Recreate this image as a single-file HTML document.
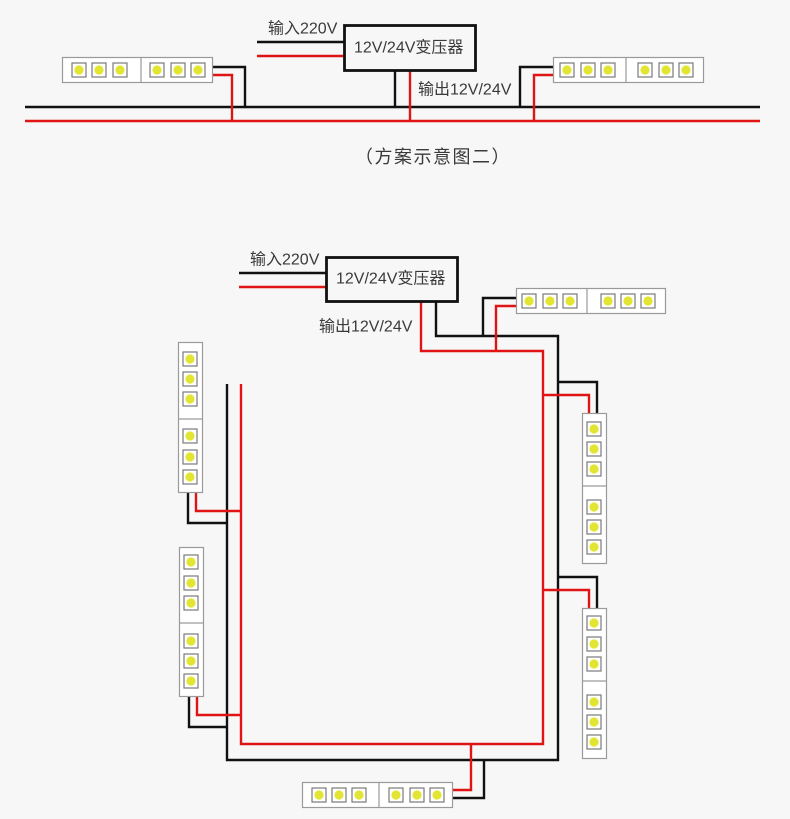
<!DOCTYPE html>
<html>
<head>
<meta charset="utf-8">
<style>
  html, body { margin:0; padding:0; background:#f7f7f7; }
  svg { display:block; }
  text { font-family: "Liberation Sans", "Noto Sans CJK SC", sans-serif; fill:#3a3a3a; font-size:16px; dominant-baseline:central; }
</style>
</head>
<body>
<svg width="790" height="819" viewBox="0 0 790 819" xmlns="http://www.w3.org/2000/svg">
  <defs>
    <g id="ledh">
      <rect x="0" y="0" width="14" height="14" fill="#fff" stroke="#7a7a7a" stroke-width="1.2"/>
      <circle cx="7" cy="7" r="4.6" fill="#e2e532"/>
    </g>
  </defs>
  <rect width="790" height="819" fill="#f7f7f7"/>

  <g fill="none" stroke-linejoin="miter" stroke-linecap="butt">
    <line x1="25" y1="107" x2="760" y2="107" stroke="#111" stroke-width="2.4"/>
    <line x1="25" y1="121" x2="760" y2="121" stroke="#e01414" stroke-width="2.4"/>
    <line x1="257" y1="42" x2="344" y2="42" stroke="#111" stroke-width="2.4"/>
    <line x1="257" y1="56" x2="344" y2="56" stroke="#e01414" stroke-width="2.4"/>
    <line x1="395" y1="71" x2="395" y2="107" stroke="#111" stroke-width="2.4"/>
    <line x1="410" y1="71" x2="410" y2="121" stroke="#e01414" stroke-width="2.4"/>
    <polyline points="212,67 245,67 245,107" stroke="#111" stroke-width="2.4"/>
    <polyline points="212,75 232,75 232,121" stroke="#e01414" stroke-width="2.4"/>
    <polyline points="553,67 520,67 520,107" stroke="#111" stroke-width="2.4"/>
    <polyline points="553,75 534,75 534,121" stroke="#e01414" stroke-width="2.4"/>
    <rect x="344.5" y="25.5" width="131" height="45" fill="#f7f7f7" stroke="#111" stroke-width="2.8"/>

    <line x1="239" y1="273" x2="326" y2="273" stroke="#111" stroke-width="2.4"/>
    <line x1="239" y1="287" x2="326" y2="287" stroke="#e01414" stroke-width="2.4"/>
    <polyline points="421,302 421,351 543,351 543,744 241,744 241,384" stroke="#e01414" stroke-width="2.4"/>
    <polyline points="436,302 436,336 558,336 558,760 227,760 227,384" stroke="#111" stroke-width="2.4"/>
    <polyline points="516,298 483,298 483,336" stroke="#111" stroke-width="2.4"/>
    <polyline points="516,306 496,306 496,351" stroke="#e01414" stroke-width="2.4"/>
    <polyline points="558,382 597,382 597,413" stroke="#111" stroke-width="2.4"/>
    <polyline points="543,395 589,395 589,413" stroke="#e01414" stroke-width="2.4"/>
    <polyline points="558,577 597,577 597,608" stroke="#111" stroke-width="2.4"/>
    <polyline points="543,590 589,590 589,608" stroke="#e01414" stroke-width="2.4"/>
    <polyline points="188,492 188,523 227,523" stroke="#111" stroke-width="2.4"/>
    <polyline points="196,492 196,511 241,511" stroke="#e01414" stroke-width="2.4"/>
    <polyline points="189,696 189,727 227,727" stroke="#111" stroke-width="2.4"/>
    <polyline points="197,696 197,715 241,715" stroke="#e01414" stroke-width="2.4"/>
    <polyline points="452,790 471,790 471,744" stroke="#e01414" stroke-width="2.4"/>
    <polyline points="452,798 484,798 484,760" stroke="#111" stroke-width="2.4"/>
    <rect x="326.5" y="257.5" width="131" height="44" fill="#f7f7f7" stroke="#111" stroke-width="2.8"/>
  </g>

  <g stroke="#9a9a9a" stroke-width="1.2">
    <rect x="62.5" y="57.5" width="150" height="25" fill="#fff"/>
    <line x1="141" y1="57.5" x2="141" y2="82.5"/>
    <rect x="553.5" y="57.5" width="150" height="25" fill="#fff"/>
    <line x1="626" y1="57.5" x2="626" y2="82.5"/>
    <rect x="516.5" y="288.5" width="149" height="25" fill="#fff"/>
    <line x1="587" y1="288.5" x2="587" y2="313.5"/>
    <rect x="582.5" y="413.5" width="24" height="150" fill="#fff"/>
    <line x1="582.5" y1="486" x2="606.5" y2="486"/>
    <rect x="582.5" y="608.5" width="24" height="150" fill="#fff"/>
    <line x1="582.5" y1="681" x2="606.5" y2="681"/>
    <rect x="178.5" y="342.5" width="24" height="150" fill="#fff"/>
    <line x1="178.5" y1="419" x2="202.5" y2="419"/>
    <rect x="179.5" y="547.5" width="24" height="149" fill="#fff"/>
    <line x1="179.5" y1="623" x2="203.5" y2="623"/>
    <rect x="302.5" y="782.5" width="150" height="25" fill="#fff"/>
    <line x1="379" y1="782.5" x2="379" y2="807.5"/>
  </g>

  <g>
    <use href="#ledh" x="72" y="63"/><use href="#ledh" x="92" y="63"/><use href="#ledh" x="113" y="63"/>
    <use href="#ledh" x="150" y="63"/><use href="#ledh" x="171" y="63"/><use href="#ledh" x="191" y="63"/>
    <use href="#ledh" x="560" y="63"/><use href="#ledh" x="581" y="63"/><use href="#ledh" x="601" y="63"/>
    <use href="#ledh" x="638" y="63"/><use href="#ledh" x="659" y="63"/><use href="#ledh" x="679" y="63"/>
    <use href="#ledh" x="522" y="294"/><use href="#ledh" x="543" y="294"/><use href="#ledh" x="563" y="294"/>
    <use href="#ledh" x="601" y="294"/><use href="#ledh" x="621" y="294"/><use href="#ledh" x="641" y="294"/>
    <use href="#ledh" x="587" y="422"/><use href="#ledh" x="587" y="442"/><use href="#ledh" x="587" y="462"/>
    <use href="#ledh" x="587" y="500"/><use href="#ledh" x="587" y="520"/><use href="#ledh" x="587" y="540"/>
    <use href="#ledh" x="587" y="616"/><use href="#ledh" x="587" y="637"/><use href="#ledh" x="587" y="657"/>
    <use href="#ledh" x="587" y="695"/><use href="#ledh" x="587" y="715"/><use href="#ledh" x="587" y="735"/>
    <use href="#ledh" x="183" y="352"/><use href="#ledh" x="183" y="372"/><use href="#ledh" x="183" y="392"/>
    <use href="#ledh" x="183" y="429"/><use href="#ledh" x="183" y="450"/><use href="#ledh" x="183" y="470"/>
    <use href="#ledh" x="184" y="555"/><use href="#ledh" x="184" y="576"/><use href="#ledh" x="184" y="596"/>
    <use href="#ledh" x="184" y="634"/><use href="#ledh" x="184" y="654"/><use href="#ledh" x="184" y="674"/>
    <use href="#ledh" x="312" y="788"/><use href="#ledh" x="332" y="788"/><use href="#ledh" x="352" y="788"/>
    <use href="#ledh" x="389" y="788"/><use href="#ledh" x="410" y="788"/><use href="#ledh" x="430" y="788"/>
  </g>

  <text x="268" y="29">输入220V</text>
  <text x="354" y="48">12V/24V变压器</text>
  <text x="418" y="90">输出12V/24V</text>
  <text x="355" y="157" style="font-size:18px" letter-spacing="1.5">（方案示意图二）</text>

  <text x="250" y="260">输入220V</text>
  <text x="336" y="279">12V/24V变压器</text>
  <text x="319" y="327">输出12V/24V</text>
</svg>
</body>
</html>
